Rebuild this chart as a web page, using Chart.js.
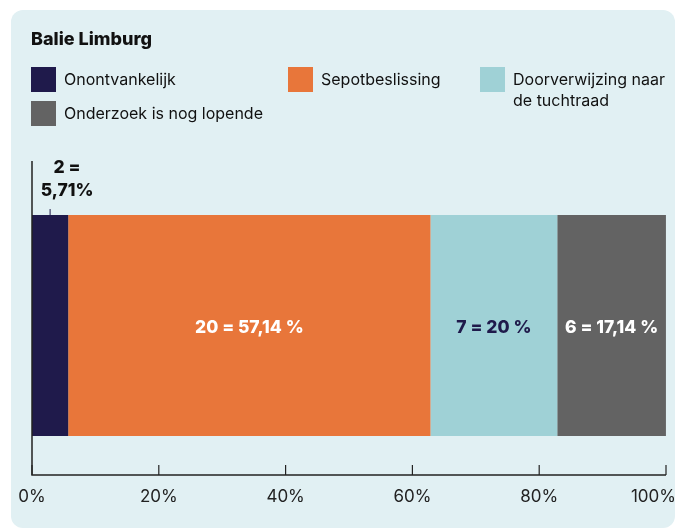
<!DOCTYPE html>
<html>
<head>
<meta charset="utf-8">
<script src="https://cdn.jsdelivr.net/npm/chart.js@4"></script>
<style>
    body { margin: 0; background: #ffffff; }
    #panel {
        position: absolute; left: 11px; top: 10px; width: 664px; height: 518px;
        background: #e1f0f3; border-radius: 12px;
    }
    #wrap { position: absolute; left: 0; top: 0; width: 678px; height: 530px; }
</style>
</head>
<body>
<div id="panel"></div>
<div id="wrap"><canvas id="chart" width="678" height="530"></canvas></div>
<script>
// Data
const categories = ['Balie Limburg'];
const seriesNames = ['Onontvankelijk', 'Sepotbeslissing', 'Doorverwijzing naar de tuchtraad', 'Onderzoek is nog lopende'];
const counts = [2, 20, 7, 6];
const percentages = [5.71, 57.14, 20, 17.14];
const barLabels = ['2 = 5,71%', '20 = 57,14 %', '7 = 20 %', '6 = 17,14 %'];
const tickValues = [0, 20, 40, 60, 80, 100];
const tickLabels = ['0%', '20%', '40%', '60%', '80%', '100%'];

const colors = ['#1f1a4b', '#e8763a', '#9fd1d6', '#636363'];
const labelColors = ['#111111', '#ffffff', '#1f1a4b', '#ffffff'];
const FONT = 'Inter, "Noto Sans", sans-serif';

// Title + legend drawn on the canvas
const legendItems = [
    { x: 31, y: 67, lines: ['Onontvankelijk'] },
    { x: 288, y: 67, lines: ['Sepotbeslissing'] },
    { x: 480, y: 67, lines: ['Doorverwijzing naar', 'de tuchtraad'] },
    { x: 31, y: 101, lines: ['Onderzoek is nog lopende'] }
];

const headerPlugin = {
    id: 'header',
    afterDraw(chart) {
        const ctx = chart.ctx;
        ctx.save();
        ctx.fillStyle = '#111111';
        ctx.font = '800 18px ' + FONT;
        ctx.textBaseline = 'alphabetic';
        ctx.textAlign = 'left';
        ctx.fillText(categories[0], 31, 45);

        ctx.font = '16px ' + FONT;
        ctx.textBaseline = 'middle';
        legendItems.forEach((item, i) => {
            ctx.fillStyle = colors[i];
            ctx.fillRect(item.x, item.y, 25, 25);
            ctx.fillStyle = '#111111';
            item.lines.forEach((line, j) => {
                ctx.fillText(line, item.x + 33, item.y + 13 + j * 21);
            });
        });
        ctx.restore();
    }
};

// Axis line, upward ticks and tick labels
const axisPlugin = {
    id: 'axisDecor',
    afterDraw(chart) {
        const ctx = chart.ctx;
        const x = chart.scales.x;
        const area = chart.chartArea;
        const axisY = area.bottom;
        ctx.save();
        ctx.strokeStyle = '#222222';
        ctx.lineWidth = 1.5;
        ctx.beginPath();
        ctx.moveTo(area.left, 161);
        ctx.lineTo(area.left, axisY);
        ctx.lineTo(area.right, axisY);
        ctx.stroke();
        ctx.lineWidth = 1.2;
        ctx.fillStyle = '#222222';
        ctx.font = '17px ' + FONT;
        ctx.textBaseline = 'middle';
        tickValues.forEach((v, i) => {
            const px = x.getPixelForValue(v);
            ctx.beginPath();
            ctx.moveTo(px, axisY - 10);
            ctx.lineTo(px, axisY);
            ctx.stroke();
            if (i === tickValues.length - 1) {
                ctx.textAlign = 'right';
                ctx.fillText(tickLabels[i], 676, axisY + 22);
            } else {
                ctx.textAlign = 'center';
                ctx.fillText(tickLabels[i], px, axisY + 22);
            }
        });
        ctx.restore();
    }
};

// Value labels on the bar segments
const labelPlugin = {
    id: 'barLabels',
    afterDatasetsDraw(chart) {
        const ctx = chart.ctx;
        ctx.save();
        ctx.font = '800 17.5px ' + FONT;
        ctx.textAlign = 'center';
        ctx.textBaseline = 'middle';
        chart.data.datasets.forEach((ds, i) => {
            const bar = chart.getDatasetMeta(i).data[0];
            const cx = (bar.x + bar.base) / 2;
            if (i === 0) {
                const top = bar.y - bar.height / 2;
                ctx.fillStyle = labelColors[0];
                ctx.fillText('2 =', cx + 17, top - 47);
                ctx.fillText('5,71%', cx + 17, top - 24);
                ctx.strokeStyle = colors[0];
                ctx.lineWidth = 1;
                ctx.beginPath();
                ctx.moveTo(cx, top - 6);
                ctx.lineTo(cx, top);
                ctx.stroke();
            } else {
                ctx.fillStyle = labelColors[i];
                ctx.fillText(barLabels[i], cx, bar.y + 2);
            }
        });
        ctx.restore();
    }
};

const ctx = document.getElementById('chart').getContext('2d');
new Chart(ctx, {
    type: 'bar',
    data: {
        labels: categories,
        datasets: seriesNames.map((name, i) => ({
            label: name,
            data: [percentages[i]],
            backgroundColor: colors[i],
            borderWidth: 0,
            barPercentage: 0.739,
            categoryPercentage: 1
        }))
    },
    options: {
        indexAxis: 'y',
        responsive: false,
        animation: false,
        layout: { padding: { left: 32, right: 12, top: 176, bottom: 0 } },
        plugins: {
            legend: { display: false },
            tooltip: { enabled: false },
            title: { display: false }
        },
        scales: {
            x: {
                stacked: true,
                min: 0,
                max: 100,
                ticks: { display: false, stepSize: 20 },
                grid: { display: false },
                border: { display: false },
                afterFit(scale) { scale.height = 55; }
            },
            y: {
                stacked: true,
                display: false
            }
        }
    },
    plugins: [headerPlugin, axisPlugin, labelPlugin]
});
</script>
</body>
</html>
